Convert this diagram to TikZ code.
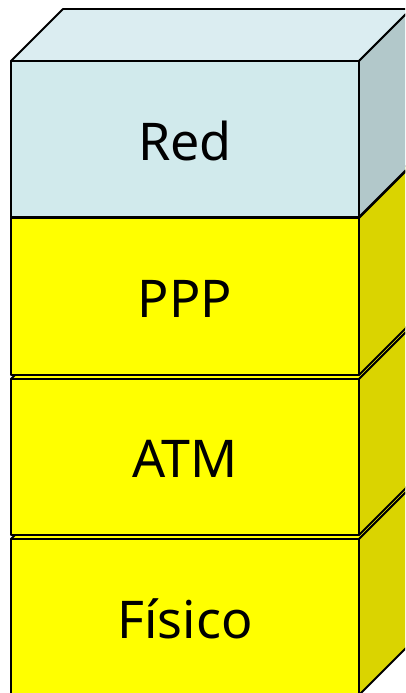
\documentclass[tikz,border=0pt]{standalone}
\usepackage{fontspec}
\setmainfont{Noto Sans}
\definecolor{redfront}{RGB}{209,234,236}
\definecolor{redlid}{RGB}{219,237,241}
\definecolor{redside}{RGB}{178,200,202}
\definecolor{layerfront}{RGB}{255,255,0}
\definecolor{layerside}{RGB}{218,212,0}
\tikzset{
  face/.style={draw=black, line width=1.9pt, line join=round},
  layerlabel/.style={font=\fontsize{52}{60}\selectfont, text=black}
}
\begin{document}
\begin{tikzpicture}[x=1pt,y=-1pt]
  \useasboundingbox (0,0) rectangle (405,693);
  \clip (0,0) rectangle (405,693);
  % layers from the bottom up, so each one hides the lid of the one below
  \foreach \top/\bot/\front/\lid/\side/\txt/\lname in {
      539/695/layerfront/layerfront/layerside/Físico/fisico,
      379/535/layerfront/layerfront/layerside/ATM/atm,
      218/375/layerfront/layerfront/layerside/PPP/ppp,
      61/217/redfront/redlid/redside/Red/red}{
    \filldraw[face, fill=\lid] (11,\top) -- (63,\top-52) -- (411,\top-52) -- (359,\top) -- cycle;
    \filldraw[face, fill=\side] (359,\top) -- (411,\top-52) -- (411,\bot-52) -- (359,\bot) -- cycle;
    \filldraw[face, fill=\front] (11,\top) rectangle (359,\bot);
    \node[layerlabel] (\lname) at (185,{(\top+\bot)/2+2}) {\txt};
  }
\end{tikzpicture}
\end{document}
